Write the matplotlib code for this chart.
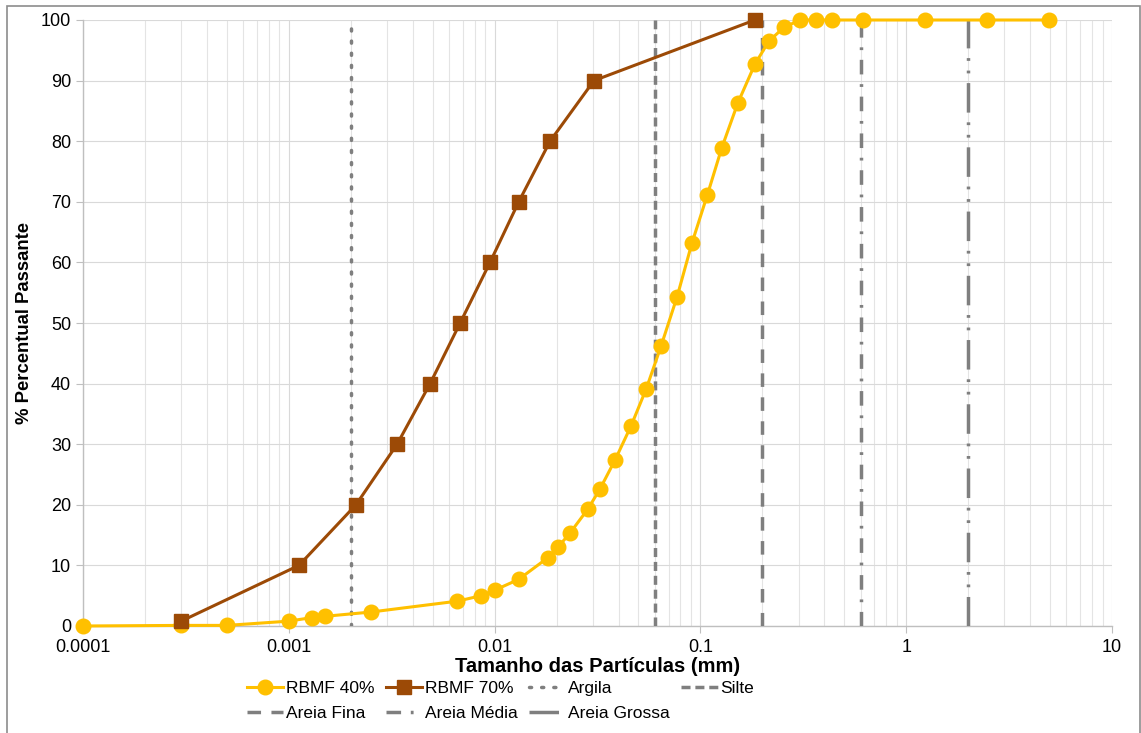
import matplotlib
matplotlib.use("Agg")
import matplotlib.pyplot as plt
from matplotlib.patches import Rectangle
from matplotlib.ticker import FixedLocator, LogLocator, NullFormatter

plt.rcParams["font.family"] = ["Liberation Sans", "DejaVu Sans"]

# RBMF 40% grading curve
d40 = [0.0001, 0.0003, 0.0005, 0.001, 0.0013, 0.0015, 0.0025, 0.0066, 0.0086,
       0.010, 0.0131, 0.0182, 0.0203, 0.0232, 0.0284, 0.0325, 0.0385, 0.046,
       0.0545, 0.0644, 0.077, 0.091, 0.108, 0.127, 0.152, 0.184, 0.215, 0.255,
       0.305, 0.365, 0.436, 0.617, 1.23, 2.46, 4.94]
p40 = [0.0, 0.1, 0.1, 0.8, 1.4, 1.6, 2.3, 4.1, 5.0,
       5.9, 7.7, 11.3, 13.0, 15.3, 19.3, 22.6, 27.4, 33.0,
       39.1, 46.2, 54.3, 63.2, 71.1, 78.9, 86.3, 92.7, 96.5, 98.8,
       100, 100, 100, 100, 100, 100, 100]

# RBMF 70% grading curve
d70 = [0.0003, 0.00112, 0.00212, 0.00336, 0.00486, 0.0068, 0.0095, 0.0131,
       0.0186, 0.0304, 0.184]
p70 = [0.8, 10, 20, 30, 40, 50, 60, 70, 80, 90, 100]

# size class limits (mm)
limits = ["Argila", "Silte", "Areia Fina", "Areia Média", "Areia Grossa"]
limit_d = [0.002, 0.06, 0.2, 0.6, 2.0]
limit_dashes = [(0.6, 2.9), (2.6, 1.4), (3.9, 3.0), (4.2, 2.8, 0.8, 2.8),
                (8.5, 2.8, 0.8, 2.8, 0.8, 2.8)]

xtick_vals = [0.0001, 0.001, 0.01, 0.1, 1, 10]
xtick_labels = ["0.0001", "0.001", "0.01", "0.1", "1", "10"]

W, H = 1141, 733
fig = plt.figure(figsize=(W / 100, H / 100), dpi=100)
ax = fig.add_axes([83 / W, 1 - 626 / H, (1112 - 83) / W, (626 - 20) / H])

yellow = "#FFC000"
brown = "#9C4A06"
gray = "#7F7F7F"

ax.plot(d40, p40, color=yellow, lw=2.2, marker="o", ms=10.5, mec=yellow,
        label="RBMF 40%", zorder=5, clip_on=False)
ax.plot(d70, p70, color=brown, lw=2.2, marker="s", ms=9.5, mec=brown,
        label="RBMF 70%", zorder=6, clip_on=False)

for name, d, ds in zip(limits, limit_d, limit_dashes):
    ln, = ax.plot([d, d], [0, 100], color=gray, lw=2.5, dashes=ds, label=name,
                  zorder=4)
    if name == "Argila":
        ln.set_dash_capstyle("round")

ax.set_xscale("log")
ax.set_xlim(0.0001, 10)
ax.set_ylim(0, 100)
ax.xaxis.set_major_locator(FixedLocator(xtick_vals))
ax.set_xticklabels(xtick_labels)
ax.xaxis.set_minor_locator(LogLocator(base=10, subs=range(2, 10), numticks=20))
ax.xaxis.set_minor_formatter(NullFormatter())
ax.set_yticks(range(0, 101, 10))

ax.grid(which="major", axis="both", color="#D9D9D9", lw=0.8)
ax.grid(which="minor", axis="x", color="#E4E4E4", lw=0.8)
ax.set_axisbelow(True)

for s in ("top", "right"):
    ax.spines[s].set_visible(False)
for s in ("left", "bottom"):
    ax.spines[s].set_color("#BFBFBF")
    ax.spines[s].set_linewidth(1.0)
ax.tick_params(which="major", length=5, color="#BFBFBF", labelsize=13,
               labelcolor="#000000")
ax.tick_params(which="minor", length=0)
ax.tick_params(axis="x", pad=4)

ax.set_xlabel("Tamanho das Partículas (mm)", fontsize=14.5, fontweight="bold",
              labelpad=1)
ax.set_ylabel("% Percentual Passante", fontsize=13.3, fontweight="bold",
              labelpad=6)

handles, labels = ax.get_legend_handles_labels()
order = [0, 4, 1, 5, 2, 6, 3]
leg = fig.legend([handles[i] for i in order], [labels[i] for i in order],
                 loc="upper left", bbox_to_anchor=(247 / W, 1 - 681 / H),
                 ncol=4, frameon=False, fontsize=12.5, handlelength=2.1,
                 handletextpad=0.15, columnspacing=0.65, labelspacing=0.55,
                 borderpad=0, borderaxespad=0)

# chart frame
fig.add_artist(Rectangle((7 / W, -0.05), (1140 - 7) / W, 1.05 - 6 / H,
                         transform=fig.transFigure, fill=False,
                         edgecolor="#8C8C8C", lw=1.2))

fig.savefig("out.png", dpi=100)
